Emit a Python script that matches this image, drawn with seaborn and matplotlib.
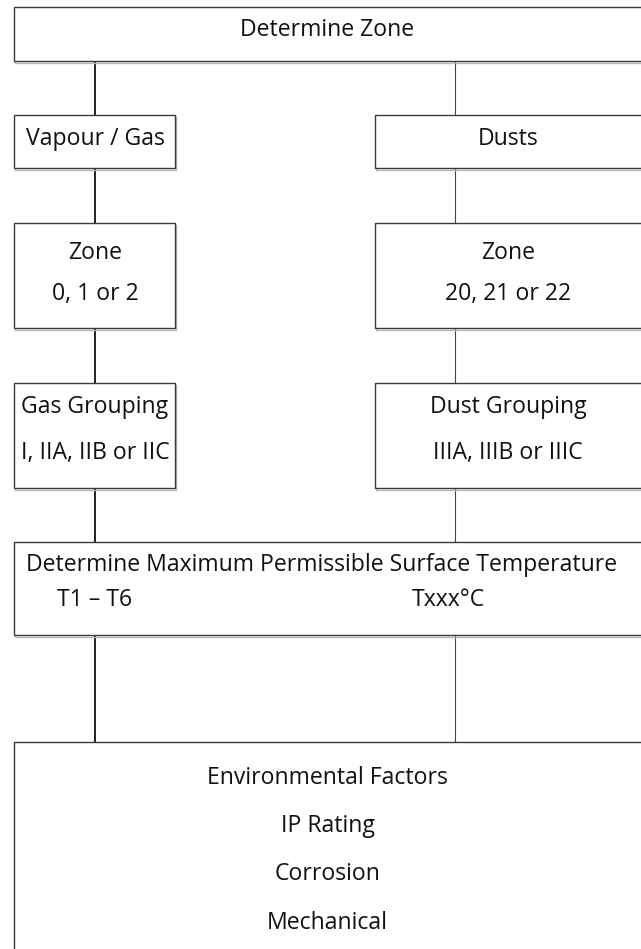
import matplotlib
matplotlib.use("Agg")
import matplotlib.pyplot as plt
import seaborn as sns
from matplotlib.patches import Rectangle

sns.set_theme(style="white")
plt.rcParams['font.family'] = ['Open Sans', 'DejaVu Sans']

# ---- content ----
top_label = ["Determine Zone"]
left_labels = [["Vapour / Gas"], ["Zone", "0, 1 or 2"], ["Gas Grouping", "I, IIA, IIB or IIC"]]
right_labels = [["Dusts"], ["Zone", "20, 21 or 22"], ["Dust Grouping", "IIIA, IIIB or IIIC"]]
temp_title = "Determine Maximum Permissible Surface Temperature"
temp_left = "T1 \u2013 T6"
temp_right = "Txxx\u00b0C"
env_labels = ["Environmental Factors", "IP Rating", "Corrosion", "Mechanical"]

W, H = 641, 949
fig = plt.figure(figsize=(W / 100, H / 100), dpi=100)
ax = fig.add_axes([0, 0, 1, 1])
ax.set_xlim(0, W)
ax.set_ylim(H, 0)
ax.axis("off")

FS = 16.6
EDGE = "#3a3a3a"
LX, RX = 95, 455

def box(x0, y0, x1, y1):
    ax.add_patch(Rectangle((x0 + 1, y0 + 1.5), x1 - x0, y1 - y0, fill=False,
                           edgecolor="#b8b8b8", lw=1.0, zorder=1))
    ax.add_patch(Rectangle((x0, y0), x1 - x0, y1 - y0, facecolor="white",
                           edgecolor=EDGE, lw=1.0, zorder=2))

def txt(x, y, s, ha="center"):
    ax.text(x, y, s, ha=ha, va="center_baseline", fontsize=FS, color="#111111", zorder=3)

# connectors
ax.plot([LX, LX], [61, 742], color="#222222", lw=1.4, zorder=0)
ax.plot([RX, RX], [61, 742], color="#444444", lw=0.8, zorder=0)

# top box
box(14, 7, 645, 61)
txt(327.5, 26.5, top_label[0])

# side boxes
rows = [(115, 168), (223, 328), (383, 488)]
line_y = [[136], [250, 291], [404, 450]]
for (y0, y1), ly, ll, rl in zip(rows, line_y, left_labels, right_labels):
    box(14, y0, 175, y1)
    box(375, y0, 645, y1)
    for yy, s in zip(ly, ll):
        txt(95, yy, s)
    for yy, s in zip(ly, rl):
        txt(508, yy, s)

# temperature box
box(14, 542, 645, 635)
txt(322, 562, temp_title)
txt(95, 597, temp_left)
txt(448, 597, temp_right)

# environmental box
box(14, 742, 645, 960)
for yy, s in zip([775, 823, 871, 920], env_labels):
    txt(327.5, yy, s)

fig.savefig("out.png", dpi=100)
